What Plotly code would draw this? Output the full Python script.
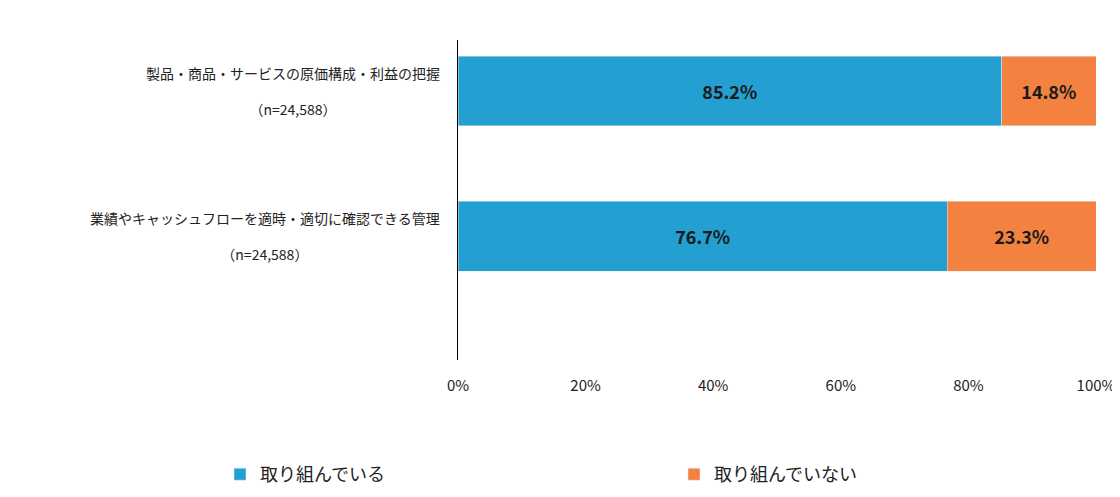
import plotly.graph_objects as go

categories = ["製品・商品・サービスの原価構成・利益の把握<br> <br>（n=24,588）",
              "業績やキャッシュフローを適時・適切に確認できる管理<br> <br>（n=24,588）"]
doing = [85.2, 76.7]
not_doing = [14.8, 23.3]
series_names = ["取り組んでいる", "取り組んでいない"]
tick_vals = [0, 20, 40, 60, 80, 100]
tick_text = ["0%", "20%", "40%", "60%", "80%", "100%"]

font = "Noto Sans CJK JP, Noto Sans, sans-serif"
fig = go.Figure()
for name, vals, color in [(series_names[0], doing, "#239fd2"),
                          (series_names[1], not_doing, "#f3813f")]:
    fig.add_trace(go.Bar(
        y=list(range(len(categories))), x=vals, name=name, orientation="h",
        marker_color=color, width=0.48,
        text=[f"<b>{v:.1f}%</b>" for v in vals], textposition="inside",
        insidetextanchor="middle", textfont=dict(size=18, color="#1a1a1a", family=font),
    ))

for i, c in enumerate(categories):
    fig.add_annotation(x=-0.025, xref="paper", y=i, yref="y", text=c,
                       xanchor="right", align="center", showarrow=False,
                       font=dict(size=14, color="#222", family=font))

fig.update_layout(
    barmode="stack", width=1120, height=497,
    margin=dict(l=450, r=28, t=32, b=100),
    plot_bgcolor="white", paper_bgcolor="white",
    font=dict(family=font, size=15, color="#222"),
    xaxis=dict(range=[0, 100], tickvals=tick_vals, ticktext=tick_text,
               showgrid=False, zeroline=False, showline=False,
               ticks="outside", ticklen=12, tickcolor="rgba(0,0,0,0)"),
    yaxis=dict(range=[1.85, -0.35], showticklabels=False, showgrid=False,
               zeroline=False, showline=True, linecolor="black", linewidth=1),
    legend=dict(orientation="h", x=-0.235, y=-0.3, xanchor="left", yanchor="top",
                entrywidth=409, entrywidthmode="pixels", font=dict(size=18),
                itemwidth=30, traceorder="normal"),
)
fig.write_html("out.html")
